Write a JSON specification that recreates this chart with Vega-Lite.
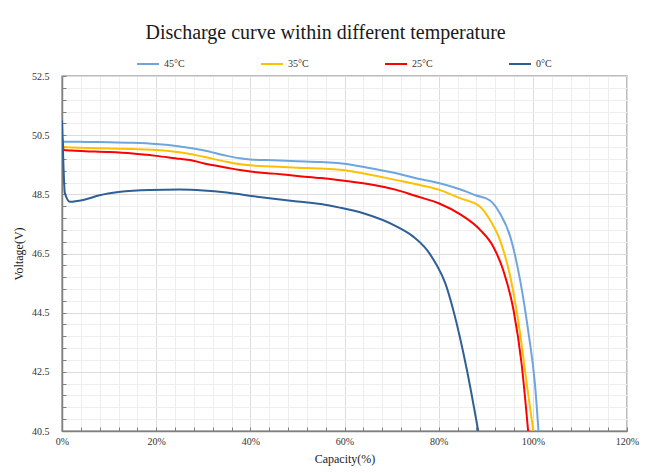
{
  "$schema": "https://vega.github.io/schema/vega-lite/v6.json",
  "width": 565,
  "height": 355,
  "autosize": {"type": "none"},
  "padding": {"left": 62, "top": 76, "right": 20, "bottom": 42},
  "background": "white",
  "title": {
    "text": "Discharge curve within different temperature",
    "font": "Liberation Serif",
    "fontSize": 20,
    "fontWeight": "normal",
    "color": "#1a1a1a",
    "anchor": "middle",
    "frame": "bounds",
    "offset": 9
  },
  "config": {
    "view": {"stroke": "#a6a6a6", "strokeWidth": 1.5},
    "axis": {
      "labelFont": "Liberation Serif",
      "titleFont": "Liberation Serif",
      "labelFontSize": 10,
      "titleFontSize": 12,
      "titleFontWeight": "normal",
      "labelColor": "#333333",
      "titleColor": "#1a1a1a",
      "domainColor": "#808080",
      "domainWidth": 1.5,
      "tickColor": "#808080",
      "tickSize": -4,
      "labelFlush": false
    }
  },
  "data": {
    "values": [
      {"temp": "45°C", "cap": 0, "v": 50.32},
      {"temp": "45°C", "cap": 0.5, "v": 50.28},
      {"temp": "45°C", "cap": 2, "v": 50.28},
      {"temp": "45°C", "cap": 5, "v": 50.27},
      {"temp": "45°C", "cap": 10, "v": 50.26},
      {"temp": "45°C", "cap": 15, "v": 50.24},
      {"temp": "45°C", "cap": 20, "v": 50.2},
      {"temp": "45°C", "cap": 25, "v": 50.12},
      {"temp": "45°C", "cap": 30, "v": 49.99},
      {"temp": "45°C", "cap": 35, "v": 49.8},
      {"temp": "45°C", "cap": 37.8, "v": 49.72},
      {"temp": "45°C", "cap": 40, "v": 49.68},
      {"temp": "45°C", "cap": 45, "v": 49.65},
      {"temp": "45°C", "cap": 50, "v": 49.62},
      {"temp": "45°C", "cap": 55, "v": 49.59},
      {"temp": "45°C", "cap": 59, "v": 49.55},
      {"temp": "45°C", "cap": 65, "v": 49.4},
      {"temp": "45°C", "cap": 71, "v": 49.21},
      {"temp": "45°C", "cap": 75, "v": 49.05},
      {"temp": "45°C", "cap": 80, "v": 48.88},
      {"temp": "45°C", "cap": 84.5, "v": 48.67},
      {"temp": "45°C", "cap": 88, "v": 48.46},
      {"temp": "45°C", "cap": 90.9, "v": 48.29},
      {"temp": "45°C", "cap": 93, "v": 47.86},
      {"temp": "45°C", "cap": 95.2, "v": 47.07},
      {"temp": "45°C", "cap": 97.3, "v": 45.6},
      {"temp": "45°C", "cap": 99, "v": 43.9},
      {"temp": "45°C", "cap": 100.5, "v": 42.0},
      {"temp": "45°C", "cap": 101.2, "v": 40.5},

      {"temp": "35°C", "cap": 0, "v": 50.25},
      {"temp": "35°C", "cap": 0.5, "v": 50.1},
      {"temp": "35°C", "cap": 2, "v": 50.08},
      {"temp": "35°C", "cap": 5, "v": 50.07},
      {"temp": "35°C", "cap": 10, "v": 50.05},
      {"temp": "35°C", "cap": 15, "v": 50.03},
      {"temp": "35°C", "cap": 20, "v": 50.0},
      {"temp": "35°C", "cap": 25, "v": 49.92},
      {"temp": "35°C", "cap": 27.2, "v": 49.86},
      {"temp": "35°C", "cap": 30, "v": 49.77},
      {"temp": "35°C", "cap": 35, "v": 49.6},
      {"temp": "35°C", "cap": 37.8, "v": 49.52},
      {"temp": "35°C", "cap": 40, "v": 49.48},
      {"temp": "35°C", "cap": 45, "v": 49.44},
      {"temp": "35°C", "cap": 50, "v": 49.4},
      {"temp": "35°C", "cap": 55, "v": 49.37},
      {"temp": "35°C", "cap": 59, "v": 49.33},
      {"temp": "35°C", "cap": 65, "v": 49.18},
      {"temp": "35°C", "cap": 71, "v": 48.98},
      {"temp": "35°C", "cap": 75, "v": 48.85},
      {"temp": "35°C", "cap": 80, "v": 48.66},
      {"temp": "35°C", "cap": 84.5, "v": 48.37},
      {"temp": "35°C", "cap": 88.8, "v": 48.08},
      {"temp": "35°C", "cap": 90.9, "v": 47.63},
      {"temp": "35°C", "cap": 93, "v": 46.96},
      {"temp": "35°C", "cap": 95.2, "v": 45.72},
      {"temp": "35°C", "cap": 97.3, "v": 43.8},
      {"temp": "35°C", "cap": 98.7, "v": 42.11},
      {"temp": "35°C", "cap": 100.1, "v": 40.5},

      {"temp": "25°C", "cap": 0, "v": 50.45},
      {"temp": "25°C", "cap": 0.4, "v": 50.0},
      {"temp": "25°C", "cap": 2, "v": 49.98},
      {"temp": "25°C", "cap": 5, "v": 49.96},
      {"temp": "25°C", "cap": 10, "v": 49.93},
      {"temp": "25°C", "cap": 15, "v": 49.88},
      {"temp": "25°C", "cap": 20, "v": 49.8},
      {"temp": "25°C", "cap": 25, "v": 49.7},
      {"temp": "25°C", "cap": 27.2, "v": 49.66},
      {"temp": "25°C", "cap": 30, "v": 49.55},
      {"temp": "25°C", "cap": 35, "v": 49.4},
      {"temp": "25°C", "cap": 37.8, "v": 49.32},
      {"temp": "25°C", "cap": 40, "v": 49.27},
      {"temp": "25°C", "cap": 45, "v": 49.2},
      {"temp": "25°C", "cap": 50, "v": 49.12},
      {"temp": "25°C", "cap": 55, "v": 49.05},
      {"temp": "25°C", "cap": 59, "v": 48.98},
      {"temp": "25°C", "cap": 65, "v": 48.85},
      {"temp": "25°C", "cap": 71, "v": 48.65},
      {"temp": "25°C", "cap": 75, "v": 48.45},
      {"temp": "25°C", "cap": 80, "v": 48.2},
      {"temp": "25°C", "cap": 84.5, "v": 47.83},
      {"temp": "25°C", "cap": 88.8, "v": 47.3},
      {"temp": "25°C", "cap": 91.6, "v": 46.73},
      {"temp": "25°C", "cap": 93.7, "v": 45.94},
      {"temp": "25°C", "cap": 95.9, "v": 44.59},
      {"temp": "25°C", "cap": 97.6, "v": 42.79},
      {"temp": "25°C", "cap": 99.0, "v": 40.5},

      {"temp": "0°C", "cap": 0, "v": 51.0},
      {"temp": "0°C", "cap": 0.3, "v": 49.5},
      {"temp": "0°C", "cap": 0.6, "v": 48.55},
      {"temp": "0°C", "cap": 1.7, "v": 48.25},
      {"temp": "0°C", "cap": 4.5, "v": 48.31},
      {"temp": "0°C", "cap": 8, "v": 48.47},
      {"temp": "0°C", "cap": 12, "v": 48.58},
      {"temp": "0°C", "cap": 18.7, "v": 48.65},
      {"temp": "0°C", "cap": 25, "v": 48.66},
      {"temp": "0°C", "cap": 30, "v": 48.63},
      {"temp": "0°C", "cap": 35, "v": 48.56},
      {"temp": "0°C", "cap": 41.4, "v": 48.42},
      {"temp": "0°C", "cap": 45, "v": 48.35},
      {"temp": "0°C", "cap": 50, "v": 48.26},
      {"temp": "0°C", "cap": 55, "v": 48.17},
      {"temp": "0°C", "cap": 59, "v": 48.05},
      {"temp": "0°C", "cap": 64, "v": 47.86},
      {"temp": "0°C", "cap": 71.1, "v": 47.41},
      {"temp": "0°C", "cap": 74.6, "v": 47.07},
      {"temp": "0°C", "cap": 77.5, "v": 46.62},
      {"temp": "0°C", "cap": 79.6, "v": 46.1},
      {"temp": "0°C", "cap": 81.4, "v": 45.5},
      {"temp": "0°C", "cap": 83.1, "v": 44.59},
      {"temp": "0°C", "cap": 86, "v": 42.56},
      {"temp": "0°C", "cap": 88.4, "v": 40.5}
    ]
  },
  "mark": {"type": "line", "interpolate": "monotone", "strokeWidth": 2, "clip": true},
  "encoding": {
    "x": {
      "field": "cap",
      "type": "quantitative",
      "scale": {"domain": [0, 120], "nice": false},
      "axis": {
        "title": "Capacity(%)",
        "values": [0, 4, 8, 12, 16, 20, 24, 28, 32, 36, 40, 44, 48, 52, 56, 60, 64, 68, 72, 76, 80, 84, 88, 92, 96, 100, 104, 108, 112, 116, 120],
        "labelExpr": "datum.value % 20 === 0 ? datum.value + '%' : ''",
        "labelPadding": 9,
        "titlePadding": 7,
        "gridColor": {"condition": {"test": "datum.value % 20 === 0", "value": "#dcdcdc"}, "value": "#eeeeee"},
        "gridWidth": 1
      }
    },
    "y": {
      "field": "v",
      "type": "quantitative",
      "scale": {"domain": [40.5, 52.5], "nice": false, "zero": false},
      "axis": {
        "title": "Voltage(V)",
        "values": [40.5, 40.9, 41.3, 41.7, 42.1, 42.5, 42.9, 43.3, 43.7, 44.1, 44.5, 44.9, 45.3, 45.7, 46.1, 46.5, 46.9, 47.3, 47.7, 48.1, 48.5, 48.9, 49.3, 49.7, 50.1, 50.5, 50.9, 51.3, 51.7, 52.1, 52.5],
        "labelExpr": "abs((datum.value - 40.5) / 2 - round((datum.value - 40.5) / 2)) < 0.01 ? format(datum.value, '.1f') : ''",
        "labelPadding": 17,
        "titlePadding": 6,
        "gridColor": {"condition": {"test": "abs((datum.value - 40.5) / 2 - round((datum.value - 40.5) / 2)) < 0.01", "value": "#dcdcdc"}, "value": "#eeeeee"},
        "gridWidth": 1
      }
    },
    "color": {
      "field": "temp",
      "type": "nominal",
      "scale": {"domain": ["45°C", "35°C", "25°C", "0°C"], "range": ["#6FA5DC", "#FFC000", "#FF0000", "#2F6095"]},
      "legend": {
        "title": null,
        "orient": "none",
        "legendX": 74,
        "legendY": -24,
        "direction": "horizontal",
        "symbolType": "stroke",
        "symbolSize": 484,
        "symbolStrokeWidth": 2,
        "labelFont": "Liberation Serif",
        "labelFontSize": 10,
        "labelColor": "#333333",
        "labelOffset": 4,
        "columnPadding": 72
      }
    }
  }
}
